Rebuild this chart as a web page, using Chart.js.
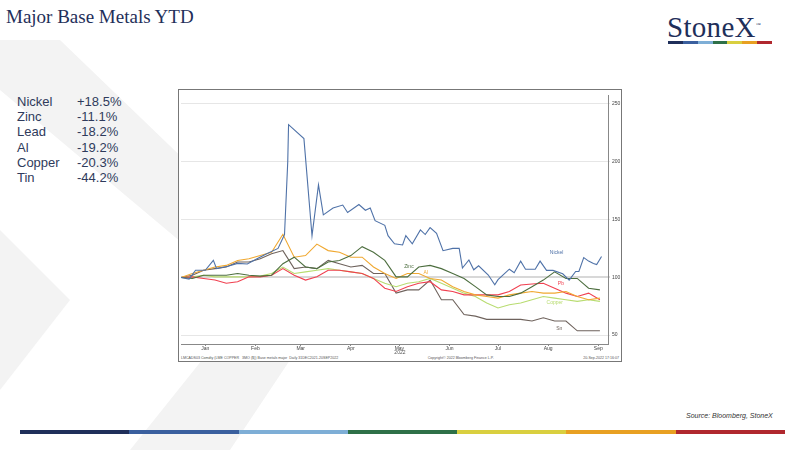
<!DOCTYPE html>
<html><head><meta charset="utf-8">
<script src="https://cdn.jsdelivr.net/npm/chart.js@4"></script>
<style>
body{margin:0;width:800px;height:450px;position:relative;background:#fff;overflow:hidden;font-family:"Liberation Sans",Arial,sans-serif}
#title{position:absolute;left:6px;top:6px;font-family:"Liberation Serif",serif;font-size:19px;color:#1f2f5a}
#logo{position:absolute;left:667px;top:11px;font-family:"Liberation Serif",serif;font-size:29px;color:#1f2f5a;letter-spacing:0.3px}
#logobar{position:absolute;left:668px;top:41px;width:104px;height:3px;display:flex}
#perf{position:absolute;left:17px;top:94px;font-size:13px;color:#2f3b5c;line-height:15.2px}
#perf span{display:inline-block;width:60px}
#frame{position:absolute;left:178px;top:89px;width:442px;height:271px;border:1px solid #777;background:#fff}
#box{position:absolute;left:0;top:0;width:442px;height:266px}
#foot{position:absolute;left:2px;top:266px;width:438px;font-size:3.6px;color:#555;display:flex;justify-content:space-between}
#source{position:absolute;left:686px;top:412px;font-size:7px;font-style:italic;color:#333}
#bar{position:absolute;left:20px;top:430px;width:765px;height:4px;display:flex}
.seg{flex:1}
</style></head><body>
<svg width="800" height="450" style="position:absolute;left:0;top:0">
<polygon points="0,40 60,40 330,300 230,450 130,450 250,300 0,90" fill="#f3f3f3"/>
<polygon points="0,230 70,300 0,390" fill="#f3f3f3"/>
</svg>
<div id="title">Major Base Metals YTD</div>
<div id="logo">StoneX<sup style="font-size:5px">™</sup></div>
<div id="logobar"></div>
<div id="perf"></div>
<div id="frame"><div id="box"><canvas id="c"></canvas></div>
<div id="foot"><span>LMCADS03 Comdty (LME COPPER&nbsp;&nbsp; 3MO ($)) Base metals major&nbsp; Daily 31DEC2021-20SEP2022</span><span>Copyright© 2022 Bloomberg Finance L.P.</span><span>20-Sep-2022 17:16:07</span></div></div>
<div id="source">Source: Bloomberg, StoneX</div>
<div id="bar"></div>
<script>
const metals = ["Nickel", "Zinc", "Lead", "Al", "Copper", "Tin"];
const ytd = ["+18.5%", "-11.1%", "-18.2%", "-19.2%", "-20.3%", "-44.2%"];
const monthLabels = ["Jan", "Feb", "Mar", "Apr", "May", "Jun", "Jul", "Aug", "Sep"];
const monthMid = [15, 46, 74, 105, 135, 166, 196, 227, 258];
const stripColors = ["#1f2f5a", "#3a5f9e", "#7eaed6", "#2e7048", "#d9cf3f", "#e8a022", "#b0282e"];

// weekly days for most series
const days = [0,7,14,21,28,35,42,49,56,63,70,77,84,91,98,105,112,119,126,133,140,147,154,161,168,175,182,189,196,203,210,217,224,231,238,245,252,259];
const zinc = [99.8,99.0,101.8,101.8,101.8,103.3,101.8,101.0,101.8,111.8,117.4,108.9,107.5,113.2,114.6,118.8,126.5,121.7,114.6,100.4,100.4,108.9,110.3,107.5,103.3,99.0,91.9,84.8,83.4,83.4,86.3,91.9,97.6,104.7,99.0,99.0,90.5,89.1];
const al = [99.8,103.3,106.1,108.9,110.3,114.6,116.0,118.8,121.7,137.2,117.4,118.8,128.7,123.1,121.7,117.4,117.4,108.9,103.3,99.0,103.3,103.3,99.0,97.6,91.9,87.7,84.8,83.4,82.0,84.8,86.3,87.7,86.3,86.3,87.7,83.4,80.6,82.0];
const tin = [99.8,101.8,106.1,107.5,108.9,113.2,113.2,116.0,120.3,123.1,107.5,108.9,107.5,114.6,111.8,108.9,110.3,103.3,103.3,86.3,89.1,89.1,97.6,80.6,80.6,67.8,66.4,63.6,63.6,63.6,63.6,62.2,65.0,62.2,62.2,53.7,53.7,53.7];
const lead = [99.8,100.4,99.0,97.6,94.8,96.2,100.4,100.4,101.8,107.5,101.8,97.6,100.4,106.1,106.1,104.7,103.3,99.0,90.5,87.7,91.9,94.8,96.2,89.1,87.7,84.8,84.8,84.8,84.8,87.7,93.3,94.2,94.8,90.5,86.3,83.4,86.3,80.6];
const copper = [99.8,100.4,101.8,100.4,100.4,100.4,100.4,101.0,103.3,108.9,103.3,104.7,106.1,107.5,106.1,104.7,103.3,99.0,94.8,91.9,94.8,96.2,99.0,94.8,90.5,86.3,83.4,77.8,73.5,76.3,77.8,80.6,83.4,82.0,80.6,79.2,80.6,79.2];
const nickelDays = [0,5,9,15,20,22,29,35,41,47,53,60,64,66,66.5,76,81,85,88,94,100,103,110,114,117,120,126,128,132,137,139,143,148,151,154,158,162,168,172,174,178,181,184,190,194,196,203,206,210,213,219,222,226,230,236,240,244,246,249,252,255,257,260];
const nickel = [99.8,98.5,106.1,106.1,114.6,107.5,109.5,112,111.5,116,120.3,125,137,200,232,220,136,180,154,160,162.5,156,163,158,160,149,145,136,129,128,136,129,141,137,143,138,123,125,125,108,115,106.5,110,102,93.5,98,107,104,114,107,107,114,106,106,103,97.5,105,105,117,114,112,111,118];

document.getElementById("perf").innerHTML = metals.map((m, i) => "<span>" + m + "</span>" + ytd[i]).join("<br>");
document.getElementById("bar").innerHTML = stripColors.map(c => '<div class="seg" style="background:' + c + '"></div>').join("");
document.getElementById("logobar").innerHTML = stripColors.map(c => '<div class="seg" style="background:' + c + '"></div>').join("");

const pts = (xs, ys) => xs.map((x, i) => ({x: x, y: ys[i]}));
const line = (label, xs, ys, color, tag, tx, ty) => ({label, data: pts(xs, ys), borderColor: color, borderWidth: 1.1, pointRadius: 0, tension: 0, tag, tx, ty});

const tagPlugin = {
  id: "tags",
  afterDatasetsDraw(chart) {
    const c = chart.ctx, xs = chart.scales.x, ys = chart.scales.y;
    c.save();
    c.font = "5px 'Liberation Sans'";
    chart.data.datasets.forEach(d => {
      c.fillStyle = d.borderColor;
      c.fillText(d.tag, xs.getPixelForValue(d.tx), ys.getPixelForValue(d.ty));
    });
    c.fillStyle = "#555";
    c.fillText("2022", xs.getPixelForValue(135) - 5, chart.chartArea.bottom + 10);
    c.restore();
  }
};

new Chart(document.getElementById("c"), {
  type: "line",
  data: {datasets: [
    line("Nickel", nickelDays, nickel, "#4f72a8", "Nickel", 228, 120),
    line("Zinc", days, zinc, "#4d6e3f", "Zinc", 138, 108),
    line("Al", days, al, "#f0a830", "Al", 150, 103),
    line("Lead", days, lead, "#f04050", "Pb", 233, 93),
    line("Copper", days, copper, "#b8dc70", "Copper", 226, 77),
    line("Tin", days, tin, "#6e625c", "Sn", 232, 54)
  ]},
  options: {
    animation: false, responsive: true, maintainAspectRatio: false,
    plugins: {legend: {display: false}, tooltip: {enabled: false}},
    layout: {padding: {left: 2, top: 0, right: 0, bottom: 0}},
    scales: {
      x: {type: "linear", min: 0, max: 264,
        afterBuildTicks: s => { s.ticks = monthMid.map(v => ({value: v})); },
        ticks: {callback: (v, i) => monthLabels[i], font: {size: 5}, color: "#444", maxRotation: 0, padding: 0, autoSkip: false},
        grid: {drawOnChartArea: false, tickLength: 2, color: "#888"}, border: {color: "#888"},
        afterFit: s => { s.height = 12; }},
      y: {position: "right", min: 42.3, max: 257.7,
        afterBuildTicks: s => { s.ticks = [50, 100, 150, 200, 250].map(v => ({value: v})); },
        ticks: {font: {size: 5}, color: "#444", padding: 2},
        grid: {color: c => c.tick && c.tick.value === 100 ? "#d8d8d8" : "#e6e6e6", lineWidth: c => c.tick && c.tick.value === 100 ? 2 : 1, drawTicks: true, tickLength: 2},
        border: {color: "#888"},
        afterFit: s => { s.width = 13; }}
    }
  },
  plugins: [tagPlugin]
});
</script>
</body></html>
